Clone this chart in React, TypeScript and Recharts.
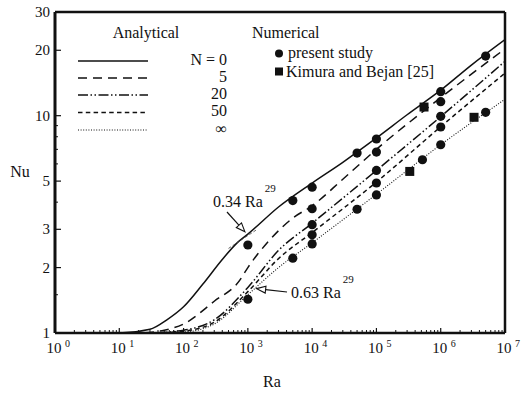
import React from "react";
import { ComposedChart, Line, Scatter, XAxis, YAxis, ReferenceLine } from "recharts";

// analytical curves, Nu vs Ra
const raN0 = [1, 10, 30, 55, 100, 200, 400, 700, 1000, 3000, 1e4, 3e4, 1e5, 3e5, 1e6, 3e6, 1e7];
const nuN0 = [1, 1, 1.04, 1.15, 1.32, 1.68, 2.18, 2.62, 2.85, 3.8, 4.9, 6.1, 7.9, 10.1, 13.1, 17.1, 22.4];

const raN5 = [1, 20, 50, 100, 300, 750, 1000, 2000, 5000, 1e4, 3e4, 1e5, 1e6, 1e7];
const nuN5 = [1, 1, 1.03, 1.1, 1.4, 1.75, 2.0, 2.6, 3.38, 3.85, 5.1, 7.0, 12.1, 20.3];

const raN20 = [1, 30, 100, 300, 1000, 3000, 1e4, 1e5, 1e6, 1e7];
const nuN20 = [1, 1, 1.03, 1.15, 1.62, 2.4, 3.2, 5.6, 9.9, 17.8];

const raN50 = [1, 30, 100, 300, 1000, 3000, 1e4, 1e5, 1e6, 1e7];
const nuN50 = [1, 1, 1.02, 1.12, 1.55, 2.2, 2.9, 4.95, 8.9, 15.7];

const raInf = [1, 30, 100, 300, 1000, 3000, 1e4, 1e5, 1e6, 1e7];
const nuInf = [1, 1, 1.01, 1.1, 1.5, 2.0, 2.6, 4.35, 7.35, 11.9];

// thin asymptote segment near "0.34 Ra^.29"
const raAsym = [500, 1400];
const nuAsym = [2.45, 3.0];

// numerical results
const raStudy = [1e3, 1e3, 5e3, 5e3, 1e4, 1e4, 1e4, 1e4, 1e4, 5e4, 5e4, 1e5, 1e5, 1e5, 1e5, 1e5, 5.2e5, 1e6, 1e6, 1e6, 1e6, 1e6, 5e6, 5e6];
const nuStudy = [2.54, 1.43, 4.07, 2.21, 4.69, 3.73, 3.15, 2.83, 2.57, 6.73, 3.71, 7.81, 6.8, 5.6, 4.9, 4.32, 6.27, 12.9, 11.6, 9.93, 8.87, 7.35, 18.8, 10.36];

const raKimura = [3.3e5, 5.5e5, 3.3e6];
const nuKimura = [5.54, 10.96, 9.83];

const xTicks = [1, 10, 100, 1e3, 1e4, 1e5, 1e6, 1e7];
const xTickExp = ["0", "1", "2", "3", "4", "5", "6", "7"];
const yTicks = [1, 2, 3, 5, 10, 20, 30];
const yMinor = [1.5, 4, 6, 7, 8, 9];

const legendN = ["N = 0", "5", "20", "50", "\u221e"];
const dashes = [undefined, "9 6", "10 2.5 1.5 2.5 1.5 2.5", "4.5 3.3", "1 1.6"];

const zip = (ra: number[], nu: number[]) => ra.map((r, i) => ({ ra: r, nu: nu[i] }));

const xMinor: number[] = [];
for (let d = 0; d < 7; d++) for (let k = 2; k <= 9; k++) xMinor.push(k * Math.pow(10, d));

const FONT = "'Liberation Serif', 'DejaVu Serif', serif";
const INK = "#111";

// plot box in pixels (used only for the overlay text)
const PL = 55, PR = 505, PT = 12, PB = 333;
const px = (ra: number) => PL + (Math.log10(ra) / 7) * (PR - PL);
const py = (nu: number) => PB - (Math.log10(nu) / Math.log10(30)) * (PB - PT);

const XTick = (props: any) => {
  const { x, y, payload } = props;
  const i = xTicks.indexOf(payload.value);
  if (i < 0) {
    return <line x1={x} x2={x} y1={y} y2={y - 3} stroke={INK} strokeWidth={1} />;
  }
  return (
    <g>
      <line x1={x} x2={x} y1={y} y2={y - 5} stroke={INK} strokeWidth={1.2} />
      <text x={x - 1} y={y + 20} textAnchor="middle" fontFamily={FONT} fontSize={15} fill={INK}>
        10
      </text>
      <text x={x + 10} y={y + 14} fontFamily={FONT} fontSize={10} fill={INK}>
        {xTickExp[i]}
      </text>
    </g>
  );
};

const YTick = (props: any) => {
  const { x, y, payload } = props;
  if (yTicks.indexOf(payload.value) < 0) {
    return <line x1={x} x2={x + 3} y1={y} y2={y} stroke={INK} strokeWidth={1} />;
  }
  return (
    <g>
      <line x1={x} x2={x + 6} y1={y} y2={y} stroke={INK} strokeWidth={1.2} />
      <text x={x - 5} y={y + 5} textAnchor="end" fontFamily={FONT} fontSize={15} fill={INK}>
        {payload.value}
      </text>
    </g>
  );
};

const Dot = (p: any) => <circle cx={p.cx} cy={p.cy} r={4.6} fill={INK} />;
const Sq = (p: any) => <rect x={p.cx - 4.5} y={p.cy - 4.5} width={9} height={9} fill={INK} />;

const Arrow = ({ x1, y1, x2, y2 }: { x1: number; y1: number; x2: number; y2: number }) => {
  const a = Math.atan2(y2 - y1, x2 - x1);
  const L = 9, w = 3.5;
  const bx = x2 - L * Math.cos(a), by = y2 - L * Math.sin(a);
  const nx = -Math.sin(a) * w, ny = Math.cos(a) * w;
  return (
    <g>
      <line x1={x1} y1={y1} x2={bx} y2={by} stroke={INK} strokeWidth={1.2} />
      <polygon points={`${x2},${y2} ${bx + nx},${by + ny} ${bx - nx},${by - ny}`} fill="#fff" stroke={INK} strokeWidth={1.1} />
    </g>
  );
};

const curves = [zip(raN0, nuN0), zip(raN5, nuN5), zip(raN20, nuN20), zip(raN50, nuN50), zip(raInf, nuInf)];

export default function App() {
  const legY = [61, 78, 95, 112.5, 130];
  return (
    <div style={{ position: "fixed", left: 0, top: 0, width: 522, height: 393, background: "#fff" }}>
      <ComposedChart
        width={522}
        height={393}
        margin={{ top: PT, right: 522 - PR, bottom: 10, left: 8 }}
      >
        <XAxis
          dataKey="ra"
          type="number"
          scale="log"
          domain={[1, 1e7]}
          allowDataOverflow
          ticks={[...xTicks, ...xMinor]}
          interval={0}
          tick={<XTick />}
          tickLine={false}
          tickSize={0}
          tickMargin={0}
          height={393 - PB - 10}
          axisLine={{ stroke: INK, strokeWidth: 2.5 }}
        />
        <YAxis
          dataKey="nu"
          type="number"
          scale="log"
          domain={[1, 30]}
          allowDataOverflow
          ticks={[...yTicks, ...yMinor]}
          interval={0}
          tick={<YTick />}
          tickLine={false}
          tickSize={0}
          tickMargin={0}
          width={PL - 8}
          axisLine={{ stroke: INK, strokeWidth: 3 }}
        />
        <ReferenceLine y={30} stroke={INK} strokeWidth={2.5} />
        <ReferenceLine x={1e7} stroke={INK} strokeWidth={2.5} />
        {curves.map((c, i) => (
          <Line
            key={i}
            data={c}
            dataKey="nu"
            type="monotone"
            stroke={INK}
            strokeWidth={i === 4 ? 1.1 : 1.5}
            strokeDasharray={dashes[i]}
            dot={false}
            activeDot={false}
            isAnimationActive={false}
          />
        ))}
        <Line
          data={zip(raAsym, nuAsym)}
          dataKey="nu"
          type="linear"
          stroke="#444"
          strokeWidth={0.8}
          strokeDasharray="3 2"
          dot={false}
          activeDot={false}
          isAnimationActive={false}
        />
        <Scatter data={zip(raStudy, nuStudy)} dataKey="nu" shape={<Dot />} isAnimationActive={false} />
        <Scatter data={zip(raKimura, nuKimura)} dataKey="nu" shape={<Sq />} isAnimationActive={false} />
      </ComposedChart>

      <svg
        width={522}
        height={393}
        style={{ position: "absolute", left: 0, top: 0, pointerEvents: "none" }}
        fontFamily={FONT}
        fill={INK}
      >
        {/* axis titles */}
        <text x={20} y={177} textAnchor="middle" fontSize={16}>Nu</text>
        <text x={272} y={387} textAnchor="middle" fontSize={16}>Ra</text>

        {/* legend */}
        <text x={146} y={38} textAnchor="middle" fontSize={16}>Analytical</text>
        <text x={252} y={38} fontSize={16}>Numerical</text>
        {legY.map((ly, i) => (
          <g key={i}>
            <line x1={78} x2={148} y1={ly} y2={ly} stroke={INK} strokeWidth={i === 4 ? 1.1 : 1.6} strokeDasharray={dashes[i]} />
            <text x={227} y={ly + 3.5} textAnchor="end" fontSize={16}>{legendN[i]}</text>
          </g>
        ))}
        <circle cx={279} cy={53.5} r={4} fill={INK} />
        <text x={288} y={58} fontSize={16}>present study</text>
        <rect x={275} y={67.5} width={8} height={8} fill={INK} />
        <text x={286} y={77} fontSize={16}>Kimura and Bejan [25]</text>

        {/* annotations */}
        <text x={213} y={207} fontSize={16}>
          0.34 Ra<tspan dx={2} dy={-15} fontSize={11}>29</tspan>
        </text>
        <Arrow x1={227} y1={212} x2={px(900)} y2={py(2.92)} />
        <text x={291} y={298} fontSize={16}>
          0.63 Ra<tspan dx={2} dy={-15} fontSize={11}>29</tspan>
        </text>
        <Arrow x1={287} y1={292} x2={px(1370)} y2={py(1.6)} />
      </svg>
    </div>
  );
}
